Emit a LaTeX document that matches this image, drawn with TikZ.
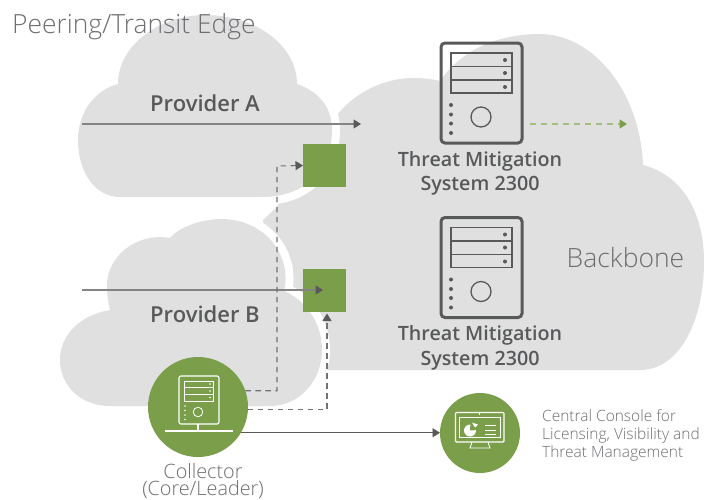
\documentclass[tikz,border=0pt]{standalone}
\usepackage{fontspec}
\setmainfont{Open Sans}
\newfontfamily\lightface{Open Sans Light}
\IfFontExistsTF{Open Sans Semibold}{\newfontfamily\semiface{Open Sans Semibold}}{\newfontfamily\semiface{Open Sans}[FakeStroke=0.35]}
\usetikzlibrary{arrows.meta}
\definecolor{cloudgray}{HTML}{E0E0E0}
\definecolor{leaf}{HTML}{7A9E4A}
\definecolor{leaflite}{HTML}{A3BE80}
\definecolor{ink}{HTML}{58595B}
\definecolor{soft}{HTML}{6D6E71}
\tikzset{
  x=1pt,y=-1pt,
  cloudshape/.style={fill=cloudgray},
  halo/.style={draw=white,line width=16pt,line join=round},
  greenbox/.style={fill=leaf,minimum size=43pt,inner sep=0,outer sep=0},
  greendisc/.style={circle,fill=leaf,inner sep=0,outer sep=0},
  tip/.style={-{Triangle[length=7.5pt,width=9pt,color=ink]}},
  solidflow/.style={tip,draw=soft!85,line width=1.3pt},
  thinflow/.style={tip,draw=ink,line width=0.9pt},
  dashflow/.style={tip,draw=ink!85,line width=1.1pt,dash pattern=on 5.5pt off 4.5pt},
  greenflow/.style={-{Triangle[length=7.5pt,width=9pt,color=leaf]},draw=leaflite,line width=1.3pt,dash pattern=on 6pt off 5pt},
  heavy/.style={font=\fontsize{19.7}{24.5}\selectfont\semiface,text=ink,align=center,inner sep=0},
  lite/.style={text=soft,inner sep=0},
  tower/.style={draw=ink,line width=1.6pt},
  icon/.style={draw=white,line width=1.1pt},
}
\newcommand{\towericon}[1]{%
  \begin{scope}[yshift=-#1pt]
    \draw[tower,line width=3pt,rounded corners=4pt] (441,43) rectangle (522,143);
    \draw[tower] (451,53) rectangle (512,93);
    \draw[tower] (451,66.5) -- (512,66.5) (451,80) -- (512,80);
    \fill[ink] (505,60) circle (2) (505,73) circle (2) (505,87) circle (2);
    \fill[ink] (451,105) circle (2) (451,114.5) circle (2) (451,123.5) circle (2) (451,133) circle (2);
    \draw[tower,line width=1.3pt] (481,117) circle (10);
  \end{scope}}
\begin{document}
\begin{tikzpicture}
\useasboundingbox (0,0) rectangle (706,499);
% backbone
\fill[cloudgray] (290,370) -- (640,370) .. controls (680,370) and (704,320) .. (704,262)
  .. controls (704,212) and (682,175) .. (643,165)
  .. controls (640,90) and (592,34) .. (540,34)
  .. controls (505,34) and (465,45) .. (440,81)
  .. controls (432,79) and (423,78) .. (413,78)
  .. controls (385,78) and (355,92) .. (337,115)
  -- (300,150) -- (277,207) -- (263,220) -- (272,300) -- cycle;
% provider clouds
\def\cloudA{(120,197) -- (262,197) .. controls (305,197) and (332,170) .. (332,130)
  .. controls (332,108) and (320,92) .. (297,84)
  .. controls (297,45) and (255,15) .. (205,15)
  .. controls (160,15) and (118,45) .. (118,84)
  .. controls (95,90) and (78,112) .. (78,140)
  .. controls (78,172) and (95,197) .. (120,197) -- cycle}
\def\cloudB{(110,406) -- (270,406) .. controls (300,406) and (322,380) .. (322,350)
  .. controls (322,322) and (305,300) .. (284,291)
  .. controls (292,258) and (268,220) .. (222,219)
  .. controls (200,219) and (178,228) .. (170,238)
  .. controls (135,232) and (107,258) .. (107,285)
  .. controls (107,294) and (108,302) .. (110,310)
  .. controls (80,315) and (60,335) .. (60,360)
  .. controls (60,385) and (80,406) .. (110,406) -- cycle}
\draw[halo] \cloudA;
\draw[halo] \cloudB;
\fill[cloudshape] \cloudA;
\fill[cloudshape] \cloudB;
% titles
\node[lite,anchor=base west,font=\fontsize{26.4}{30}\selectfont\lightface] (title) at (12,33) {Peering/Transit Edge};
\node[lite,font=\fontsize{26.5}{30}\selectfont\lightface] (bb) at (625.5,258) {Backbone};
\node[heavy,font=\fontsize{22}{25}\selectfont\semiface] (pa) at (205,103) {Provider A};
\node[heavy,font=\fontsize{22}{25}\selectfont\semiface] (pb) at (205,314) {Provider B};
% towers
\towericon{0}
\towericon{174.5}
\node[heavy] (tm1) at (480,173.5) {Threat Mitigation\\System 2300};
\node[heavy] (tm2) at (480,348) {Threat Mitigation\\System 2300};
% squares
\node[greenbox] (sqA) at (324.5,165.5) {};
\node[greenbox] (sqB) at (324.5,290.5) {};
% discs
\node[greendisc,minimum size=100pt] (coll) at (198,407) {};
\node[greendisc,minimum size=80pt] (cons) at (480,433) {};
% free ends
\coordinate (aIn) at (82,124);
\coordinate (aOut) at (361,124);
\coordinate (bIn) at (82,290);
\coordinate (bOut) at (323,290);
\coordinate (gIn) at (530,124);
\coordinate (gOut) at (627,124);
% connectors
\draw[solidflow] (aIn) -- (aOut);
\draw[solidflow] (bIn) -- (bOut);
\draw[greenflow] (gIn) -- (gOut);
\draw[dashflow] (coll.19) -| (277,166) -- (sqA.west);
\draw[dashflow] (coll.-3) -| ([xshift=2.5pt,yshift=-1.5pt]sqB.south);
\draw[thinflow] (coll.-31) -- (cons.west |- coll.-31);
% collector icon
\draw[icon,rounded corners=2pt] (179,376) rectangle (219,424);
\draw[icon,line width=0.8pt] (184,381) rectangle (213,401) (184,387.5) -- (213,387.5) (184,394) -- (213,394);
\fill[white] (210,384) circle (0.9) (210,391) circle (0.9) (210,397.5) circle (0.9);
\fill[white] (185,406) circle (0.9) (185,410.5) circle (0.9) (185,415) circle (0.9) (185,419.5) circle (0.9);
\draw[icon,line width=0.8pt] (198,412) circle (4.8);
\draw[icon] (198,424) -- (198,431) (165,431) -- (233,431);
% console icon
\draw[icon,rounded corners=1pt] (455.5,412.5) rectangle (504,442);
\draw[icon,line width=0.9pt] (459.5,417) rectangle (500,437.5);
\draw[icon,line width=0.7pt] (479.7,412.5) -- (479.7,415);
\draw[icon,line width=0.9pt] (472,442) -- (470,448) -- (490,448) -- (488,442);
\fill[white] (470,430.5) circle (6);
\fill[leaf] (470,430.5) -- (470.5,423) -- (477,423) -- (477,430) -- cycle;
\fill[white] (472,422.5) -- (478,424.5) -- (475,427.5) -- cycle;
\draw[icon,line width=0.9pt] (485,425) -- (496,425) (485,430) -- (496,430) (485,434.5) -- (496,434.5);
% captions
\node[lite,align=center,font=\fontsize{19.8}{17.5}\selectfont\lightface] (cap) at (203,481) {Collector\\(Core/Leader)};
\node[lite,align=left,anchor=west,font=\fontsize{15.5}{18}\selectfont\lightface] (concap) at (542,435) {Central Console for\\Licensing, Visibility and\\Threat Management};
\end{tikzpicture}
\end{document}
